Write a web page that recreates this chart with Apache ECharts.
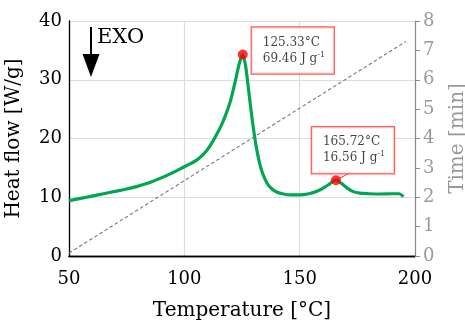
<!DOCTYPE html>
<html>
<head>
<meta charset="utf-8">
<script src="https://cdn.jsdelivr.net/npm/echarts@6/dist/echarts.min.js"></script>
<style>html,body{margin:0;padding:0;background:#fff}#c{width:465px;height:320px}</style>
</head>
<body>
<div id="c"></div>
<script>
var temperature = [50,55,60,65,70,75,80,85,90,95,100,102,104,106,108,110,112,114,116,118,120,122,124,125.3,126.5,128,129.5,131,132.5,134,136,138,140,143,146,150,154,158,162,165.7,168,170.5,173,176,180,185,190,193,195];
var heatFlow = [9.4,9.8,10.2,10.6,11.0,11.4,11.9,12.5,13.3,14.2,15.2,15.6,16.0,16.5,17.2,18.1,19.3,20.7,22.2,24.1,26.4,29.6,33.0,34.3,32.5,27.8,23.0,19.0,16.0,14.0,12.3,11.4,10.9,10.55,10.4,10.4,10.6,11.1,12.0,12.9,12.4,11.6,11.0,10.7,10.6,10.55,10.6,10.6,10.1];
var timeTemp = [50,196];
var timeMin = [0.1,7.3];
var peakTemp = [125.33,165.72];
var peakFlow = [34.3,12.9];
var peakLabel1 = ['125.33°C','165.72°C'];
var peakLabel2 = ['69.46','16.56'];
var xTicks = [50,100,150,200];
var yTicks = [0,10,20,30,40];
var y2Ticks = [0,1,2,3,4,5,6,7,8];

var FONT = 'DejaVu Serif';
var chart = echarts.init(document.getElementById('c'));
var flowData = temperature.map(function(t,i){return [t,heatFlow[i]];});
var timeData = timeTemp.map(function(t,i){return [t,timeMin[i]];});
var labelOffsets = [[9,-27],[-24,-53]];
var peaks = peakTemp.map(function(t,i){
  return {value:[t,peakFlow[i]], l1:peakLabel1[i], l2:peakLabel2[i], label:{offset:labelOffsets[i]}};
});

chart.setOption({
  animation:false,
  grid:{left:69,right:50,top:21,bottom:64,outerBoundsMode:'none',containLabel:false},
  xAxis:[{
    type:'value',min:xTicks[0],max:xTicks[xTicks.length-1],interval:50,
    name:'Temperature [°C]',nameLocation:'middle',nameGap:45,
    nameTextStyle:{fontFamily:FONT,fontSize:20,color:'#000'},
    axisLine:{lineStyle:{color:'#000',width:1.3}},
    axisTick:{show:false},
    axisLabel:{fontFamily:FONT,fontSize:18,color:'#000',margin:14},
    splitLine:{show:true,lineStyle:{color:'#dcdcdc',width:1.2}}
  },{
    type:'value',position:'top',min:50,max:200,
    axisLine:{show:true,lineStyle:{color:'#000',width:1.3}},
    axisTick:{show:false},axisLabel:{show:false},splitLine:{show:false}
  }],
  yAxis:[{
    type:'value',min:0,max:40,interval:10,
    name:'Heat flow [W/g]',nameLocation:'middle',nameGap:45,
    nameTextStyle:{fontFamily:FONT,fontSize:20,color:'#000'},
    axisLine:{show:true,lineStyle:{color:'#000',width:1.3}},
    axisTick:{show:false},
    axisLabel:{fontFamily:FONT,fontSize:18,color:'#000',margin:7},
    splitLine:{show:true,lineStyle:{color:'#dcdcdc',width:1.2}}
  },{
    type:'value',min:0,max:8,interval:1,position:'right',
    name:'Time [min]',nameLocation:'middle',nameGap:33,
    nameTextStyle:{fontFamily:FONT,fontSize:20,color:'#999'},
    axisLine:{show:true,lineStyle:{color:'#888',width:1.2}},
    axisTick:{show:true,inside:false,length:5,lineStyle:{color:'#888'}},
    axisLabel:{fontFamily:FONT,fontSize:18,color:'#999',margin:8},
    splitLine:{show:false}
  }],
  series:[{
    type:'line',yAxisIndex:1,data:timeData,showSymbol:false,
    lineStyle:{color:'#777',width:1.1,type:[3.5,2.5]},z:1
  },{
    type:'line',data:flowData,showSymbol:false,smooth:0.3,
    lineStyle:{color:'#00a651',width:3.2},z:3
  },{
    type:'scatter',data:peaks,symbol:'circle',symbolSize:10,
    itemStyle:{color:'#ff0000'},z:5,
    label:{show:true,position:'inside',align:'left',verticalAlign:'top',
      formatter:function(p){return '{a|'+p.data.l1+'}\n{a|'+p.data.l2+' J g}{s|-1}';},
      backgroundColor:'#fff',borderColor:'#ff3030',borderWidth:1.2,
      padding:[7,11,7,11],width:60,
      rich:{a:{fontFamily:FONT,fontSize:12,color:'#111',lineHeight:16},
            s:{fontFamily:FONT,fontSize:8,color:'#111',lineHeight:16,verticalAlign:'top'}}
    },
    markLine:{silent:true,symbol:['none','none'],label:{show:false},
      lineStyle:{color:'#ff3030',width:1,type:'solid'},
      data:[[{coord:[165.72,12.9]},{coord:[172.5,14.3]}]]}
  }],
  graphic:[
    {type:'line',shape:{x1:91,y1:27,x2:91,y2:58},style:{stroke:'#000',lineWidth:2}},
    {type:'polygon',shape:{points:[[82.5,54],[99.5,54],[91,77]]},style:{fill:'#000'}},
    {type:'text',left:97,top:27,style:{text:'EXO',font:'21px "DejaVu Serif"',fill:'#000'}}
  ]
});
</script>
</body>
</html>
